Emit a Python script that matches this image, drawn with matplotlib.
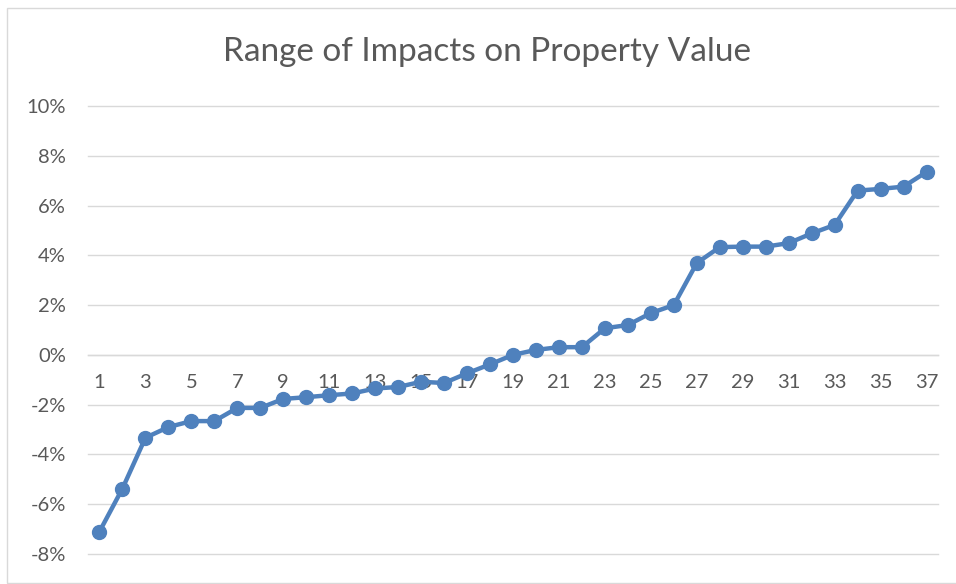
import numpy as np
import matplotlib.pyplot as plt
from matplotlib.patches import Rectangle
from matplotlib.ticker import FuncFormatter

plt.rcParams['font.family'] = ['Lato', 'DejaVu Sans']

# data (percent)
case_no = list(range(1, 38))
impact_pct = [-7.10, -5.37, -3.33, -2.90, -2.66, -2.66, -2.13, -2.13, -1.77, -1.70,
              -1.62, -1.55, -1.35, -1.29, -1.08, -1.13, -0.74, -0.38, 0.00, 0.20,
              0.31, 0.31, 1.07, 1.20, 1.68, 2.00, 3.69, 4.33, 4.35, 4.35,
              4.49, 4.88, 5.22, 6.60, 6.67, 6.76, 7.35]
y_ticks = [-8, -6, -4, -2, 0, 2, 4, 6, 8, 10]
x_ticks = list(range(1, 38, 2))

grey_text = '#595959'
grid_col = '#D9D9D9'
blue = '#4F81BD'

fig = plt.figure(figsize=(9.56, 5.84), dpi=100)
ax = fig.add_axes([88 / 956, 30 / 584, 850 / 956, 448 / 584])

ax.plot(case_no, impact_pct, color=blue, lw=3.2, marker='o', ms=10,
        solid_joinstyle='round', zorder=3)

ax.set_xlim(0.5, 37.5)
ax.set_ylim(-8, 10)
ax.set_yticks(y_ticks)
ax.yaxis.set_major_formatter(FuncFormatter(lambda v, p: f'{v:.0f}%'))
ax.set_xticks(x_ticks)
ax.grid(axis='y', color=grid_col, lw=1.0)
for gl in ax.get_ygridlines():
    gl.set_clip_on(False)
ax.set_axisbelow(True)

for side in ['top', 'right', 'left']:
    ax.spines[side].set_visible(False)
ax.spines['bottom'].set_position(('data', 0))
ax.spines['bottom'].set_color(grid_col)
ax.spines['bottom'].set_linewidth(1.0)

ax.tick_params(axis='y', length=0, pad=16, labelsize=14.5, labelcolor=grey_text)
ax.tick_params(axis='x', length=0, pad=14, labelsize=14.5, labelcolor=grey_text)

fig.text(487 / 956, 1 - 52 / 584, 'Range of Impacts on Property Value',
         ha='center', va='center', fontsize=24, color=grey_text)

# chart border
fig.add_artist(Rectangle((7 / 956, 1.5 / 584), 1.0, 574.5 / 584,
                         transform=fig.transFigure, fill=False,
                         ec=grid_col, lw=1.0))

fig.savefig('out.png', dpi=100)
